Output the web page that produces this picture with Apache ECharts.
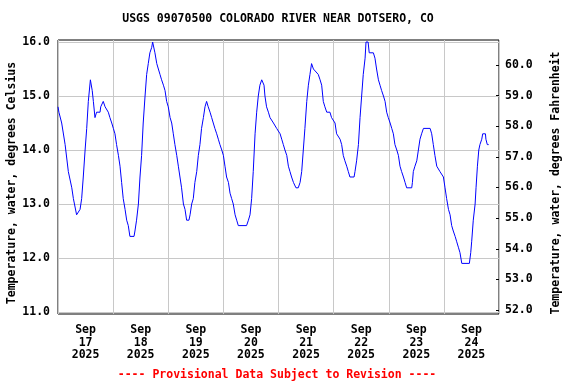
<!DOCTYPE html>
<html><head><meta charset="utf-8">
<script src="https://cdn.jsdelivr.net/npm/echarts@6/dist/echarts.min.js"></script>
<style>html,body{margin:0;padding:0;background:#fff}#c{width:576px;height:384px}</style>
</head><body><div id="c"></div>
<script>
const chartTitle = 'USGS 09070500 COLORADO RIVER NEAR DOTSERO, CO';
const footerText = '---- Provisional Data Subject to Revision ----';
const leftAxisName = 'Temperature, water, degrees Celsius';
const rightAxisName = 'Temperature, water, degrees Fahrenheit';
const dayLabels = ['Sep\n17\n2025','Sep\n18\n2025','Sep\n19\n2025','Sep\n20\n2025','Sep\n21\n2025','Sep\n22\n2025','Sep\n23\n2025','Sep\n24\n2025'];
// hours since 2025-09-17 00:00
const hours = [0,0.4,1.6,3.1,4.5,6.0,6.7,8.1,8.9,9.6,10.3,11.0,11.8,12.5,13.2,14.1,14.9,15.4,16.1,16.8,18.3,18.6,19.7,20.5,21.9,22.6,23.4,24.1,24.8,25.5,26.3,27.0,27.7,28.4,29.2,29.9,30.6,31.3,33.1,33.5,34.2,35.0,35.7,36.4,37.1,37.9,38.6,39.3,40.0,40.8,41.2,41.7,42.2,43.0,43.7,44.4,45.1,45.9,46.6,47.3,48.0,48.8,49.5,50.2,50.9,51.7,52.4,53.1,53.8,54.6,55.3,56.0,57.0,57.5,58.2,58.9,59.6,60.4,61.1,61.8,62.5,63.3,64.0,64.7,65.4,66.2,66.9,67.6,68.3,69.1,69.8,70.5,
71.3,72.0,72.7,73.4,74.2,74.9,75.6,76.3,77.1,77.8,78.5,82.1,82.9,83.6,84.3,85.0,85.8,86.5,87.2,87.9,88.7,89.1,89.7,90.1,90.8,91.6,92.3,93.8,95.2,96.7,97.4,98.1,98.8,99.6,100.3,101.0,101.7,102.5,103.6,104.6,105.4,106.1,106.8,107.5,108.3,109.0,109.7,110.4,111.2,113.3,114.1,114.8,115.5,116.2,117.0,118.4,119.1,120.6,121.3,122.8,123.5,124.2,124.9,125.7,126.4,127.1,128.9,129.3,130.0,130.8,131.5,132.2,132.9,133.7,134.1,135.0,135.5,137.3,138.0,138.7,139.5,140.2,
140.9,141.7,142.4,143.1,143.8,144.6,145.3,146.0,146.7,147.5,148.2,148.9,149.6,150.4,151.1,151.8,154.0,154.3,154.7,155.4,156.2,156.9,157.6,158.3,159.1,162.0,162.7,163.4,164.1,164.9,166.3,167.0,167.8,168.5,169.2,170.0,170.7,171.4,172.1,172.9,173.6,174.3,175.0,175.8,179.1,179.7,180.1,180.8,181.6,182.0,182.6,183.2,183.7,184.5,184.9,186.1,186.3,186.9,187.5];
const tempC = [14.8,14.7,14.5,14.1,13.6,13.3,13.1,12.8,12.8,12.9,13.1,13.5,14.0,14.4,14.9,15.3,15.1,14.9,14.6,14.7,14.7,14.8,14.9,14.8,14.7,14.6,14.5,14.4,14.3,14.1,13.9,13.7,13.4,13.1,12.9,12.7,12.6,12.4,12.4,12.5,12.7,13.0,13.5,13.9,14.5,15.0,15.4,15.6,15.8,15.9,16.0,16.0,15.8,15.6,15.5,15.4,15.3,15.2,15.1,14.9,14.8,14.6,14.5,14.3,14.1,13.9,13.7,13.5,13.3,13.0,12.9,12.7,12.7,12.8,13.0,13.1,13.4,13.6,13.9,14.1,14.4,14.6,14.8,14.9,14.8,14.7,14.6,14.5,14.4,14.3,14.2,14.1,
14.0,13.9,13.7,13.5,13.4,13.2,13.1,13.0,12.8,12.7,12.6,12.6,12.7,12.8,13.1,13.6,14.3,14.7,15.0,15.2,15.3,15.3,15.2,15.0,14.8,14.7,14.6,14.5,14.4,14.3,14.2,14.1,14.0,13.9,13.7,13.6,13.5,13.4,13.3,13.3,13.4,13.6,14.0,14.4,14.9,15.2,15.4,15.6,15.5,15.4,15.3,15.2,14.9,14.8,14.7,14.7,14.6,14.5,14.3,14.2,14.1,13.9,13.8,13.7,13.6,13.5,13.5,13.6,13.8,14.1,14.6,15.0,15.4,15.7,16.0,16.0,15.8,15.8,15.7,15.5,15.3,15.2,
15.1,15.0,14.9,14.7,14.6,14.5,14.4,14.3,14.1,14.0,13.9,13.7,13.6,13.5,13.4,13.3,13.3,13.4,13.6,13.7,13.8,14.0,14.2,14.3,14.4,14.4,14.3,14.1,13.9,13.7,13.6,13.6,13.5,13.3,13.1,12.9,12.8,12.6,12.5,12.4,12.3,12.2,12.1,11.9,11.9,12.1,12.3,12.7,13.0,13.3,13.7,14.0,14.1,14.2,14.3,14.3,14.2,14.1,14.1];
const celsiusRange = [11, 16];
const fahrenheitRange = [52, 60];

const FONT = '"DejaVu Sans Mono", monospace';
const TXT = {fontFamily: FONT, fontSize: 11.5, fontWeight: 'bold', color: '#000'};
const NONE = () => ({show: false});
const NOLINE = () => ({show: false, onZero: false});
const hiddenAxis = (grid, min, max) => ({gridIndex: grid, type: 'value', min: min, max: max, interval: max - min, show: false,
  axisLine: NOLINE(), axisTick: NONE(), minorTick: NONE(), axisLabel: NONE(), splitLine: NONE(), minorSplitLine: NONE()});
const data = hours.map((h, i) => [h, tempC[i]]);
const chart = echarts.init(document.getElementById('c'), null, {renderer: 'canvas'});
chart.setOption({
  animation: false,
  grid: [
    {left: 58, right: 77, top: 40, bottom: 70, show: true, borderColor: '#000', borderWidth: 1},
    {left: 58, right: 77, top: 42, bottom: 72},
    {left: 58, right: 77, top: 65, bottom: 74}
  ],
  xAxis: [
    {gridIndex: 0, type: 'value', min: 0, max: 192, interval: 24, axisLine: NOLINE(), axisTick: NONE(), minorTick: NONE(), axisLabel: NONE(), splitLine: {show: true, lineStyle: {color: '#c8c8c8', width: 1}}},
    {gridIndex: 0, type: 'value', min: 0, max: 192, interval: 12, position: 'bottom', axisLine: NOLINE(), axisTick: NONE(), minorTick: NONE(), splitLine: NONE(),
      axisLabel: Object.assign({margin: 10, lineHeight: 12.5, formatter: v => (v % 24 === 12 ? dayLabels[(v - 12) / 24] : '')}, TXT)},
    hiddenAxis(1, 0, 192),
    hiddenAxis(2, 0, 192)
  ],
  yAxis: [
    hiddenAxis(0, 0, 1),
    {gridIndex: 1, type: 'value', min: celsiusRange[0], max: celsiusRange[1], interval: 1, axisLine: NOLINE(), axisTick: NONE(), minorTick: NONE(), minorSplitLine: NONE(),
      axisLabel: Object.assign({margin: 8, formatter: v => v.toFixed(1)}, TXT), splitLine: {show: true, lineStyle: {color: '#c8c8c8', width: 1}}},
    {gridIndex: 2, type: 'value', position: 'right', min: fahrenheitRange[0], max: fahrenheitRange[1], interval: 1, axisLine: NOLINE(), minorTick: NONE(),
      axisTick: {show: true, inside: true, length: 3, lineStyle: {color: '#000', width: 1}},
      axisLabel: Object.assign({margin: 6, formatter: v => v.toFixed(1)}, TXT), splitLine: NONE()}
  ],
  series: [{type: 'line', xAxisIndex: 2, yAxisIndex: 1, data: data, showSymbol: false, clip: false, z: 5,
    lineStyle: {color: '#0000ff', width: 1}}],
  graphic: [
    {type: 'text', x: 278, y: 19, style: {text: chartTitle, fontFamily: FONT, fontSize: 11.5, fontWeight: 'bold', fill: '#000', align: 'center', verticalAlign: 'middle'}},
    {type: 'text', x: 277, y: 375, style: {text: footerText, fontFamily: FONT, fontSize: 11.5, fontWeight: 'bold', fill: '#ff0000', align: 'center', verticalAlign: 'middle'}},
    {type: 'text', x: 12, y: 183, rotation: Math.PI / 2, style: {text: leftAxisName, fontFamily: FONT, fontSize: 11.5, fontWeight: 'bold', fill: '#000', align: 'center', verticalAlign: 'middle'}},
    {type: 'text', x: 556, y: 183, rotation: Math.PI / 2, style: {text: rightAxisName, fontFamily: FONT, fontSize: 11.5, fontWeight: 'bold', fill: '#000', align: 'center', verticalAlign: 'middle'}}
  ]
});
</script></body></html>
